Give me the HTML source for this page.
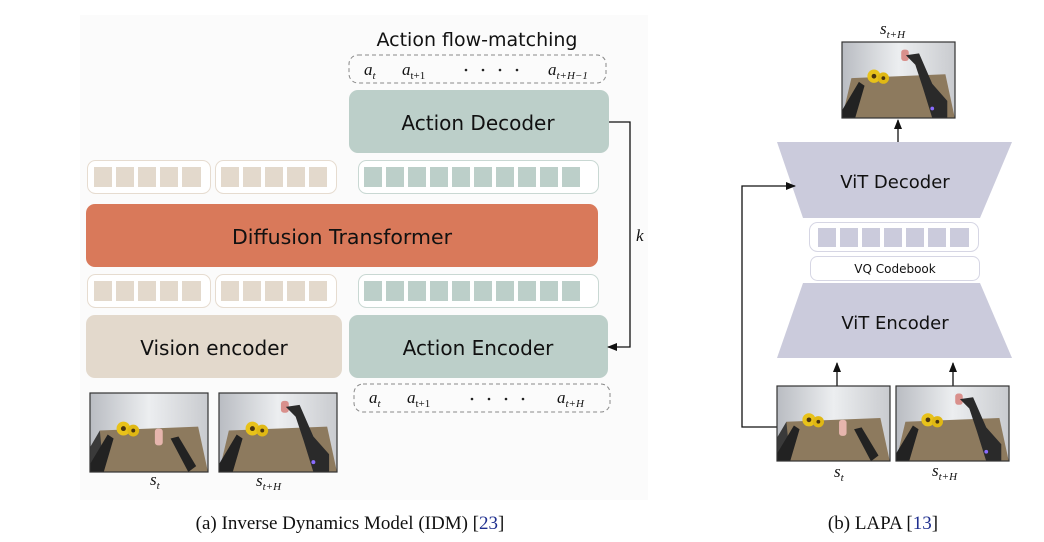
<!DOCTYPE html>
<html><head><meta charset="utf-8"><style>
html,body{margin:0;padding:0;background:#fff;}
svg{display:block}
.sans{font-family:"DejaVu Sans","Liberation Sans",sans-serif;}
.serif{font-family:"Liberation Serif",serif;}
</style></head><body>
<svg width="1044" height="542" viewBox="0 0 1044 542" xmlns="http://www.w3.org/2000/svg">
<defs>
<marker id="ar" markerWidth="10" markerHeight="8" refX="9" refY="4" orient="auto" markerUnits="userSpaceOnUse">
<path d="M0,0 L10,4 L0,8 z" fill="#111"/></marker>
<linearGradient id="wall" x1="0" y1="0" x2="1" y2="0"><stop offset="0" stop-color="#b9bcc2"/><stop offset="0.5" stop-color="#eceef0"/><stop offset="1" stop-color="#c9cbcf"/></linearGradient>
<g id="photoA">
<rect x="0" y="0" width="120" height="80" fill="url(#wall)"/>
<polygon points="10,38 110,34 120,80 0,80" fill="#8d7a5e"/>
<polygon points="0,55 10,38 14,80 0,80" fill="#3a3a3a"/>
<circle cx="34" cy="36" r="7" fill="#e8c21a"/><circle cx="44" cy="38" r="6" fill="#e0b814"/><circle cx="34" cy="36" r="2.5" fill="#4a3510"/><circle cx="44" cy="38" r="2" fill="#4a3510"/>
<rect x="66" y="36" width="8" height="17" rx="3" fill="#e6b5ad"/>
<polygon points="0,72 18,42 24,46 14,80 0,80" fill="#222"/>
<polygon points="82,46 90,44 108,74 100,80" fill="#222"/>
</g>
<g id="photoB">
<rect x="0" y="0" width="120" height="80" fill="url(#wall)"/>
<polygon points="10,38 110,34 120,80 0,80" fill="#8d7a5e"/>
<circle cx="34" cy="36" r="7" fill="#e8c21a"/><circle cx="44" cy="38" r="6" fill="#e0b814"/><circle cx="34" cy="36" r="2.5" fill="#4a3510"/><circle cx="44" cy="38" r="2" fill="#4a3510"/>
<rect x="63" y="8" width="8" height="12" rx="3" fill="#d9908c"/>
<polygon points="68,14 82,12 96,44 112,62 112,80 96,80 86,48 78,24" fill="#2a2a2a"/>
<circle cx="96" cy="70" r="2" fill="#8a6cff"/>
<polygon points="0,72 18,42 24,46 14,80 0,80" fill="#222"/>
</g>
</defs>

<rect x="80" y="15" width="568" height="485" fill="#fbfbfb"/>

<!-- Left panel -->
<text x="477" y="46" text-anchor="middle" class="sans" font-size="19" fill="#111">Action flow-matching</text>
<rect x="349" y="55" width="257" height="28" rx="9" fill="none" stroke="#888" stroke-dasharray="4,3"/>
<g class="serif" font-size="17" font-style="italic" fill="#111">
<text x="364" y="75">a<tspan font-size="11" dy="4">t</tspan></text>
<text x="402" y="75">a<tspan font-size="11" dy="4" font-style="normal">t+1</tspan></text>
<text x="548" y="75">a<tspan font-size="11" dy="4">t+H−1</tspan></text>
</g>
<g fill="#222"><circle cx="466" cy="70" r="1.3"/><circle cx="483" cy="70" r="1.3"/><circle cx="500" cy="70" r="1.3"/><circle cx="517" cy="70" r="1.3"/></g>

<rect x="349" y="90" width="260" height="63" rx="9" fill="#bccfc9"/>
<text x="478" y="130" text-anchor="middle" class="sans" font-size="20" fill="#111">Action Decoder</text>

<!-- token rows -->
<g id="rowU">
<rect x="87.5" y="160.5" width="123" height="33" rx="8" fill="#fff" stroke="#e6dcd0"/>
<rect x="94" y="167" width="18" height="20" fill="#e3d9cc"/><rect x="116" y="167" width="18" height="20" fill="#e3d9cc"/><rect x="138" y="167" width="18" height="20" fill="#e3d9cc"/><rect x="160" y="167" width="18" height="20" fill="#e3d9cc"/><rect x="182" y="167" width="19" height="20" fill="#e3d9cc"/>
<rect x="215.5" y="160.5" width="121" height="33" rx="8" fill="#fff" stroke="#e6dcd0"/>
<rect x="221" y="167" width="18" height="20" fill="#e3d9cc"/><rect x="243" y="167" width="18" height="20" fill="#e3d9cc"/><rect x="265" y="167" width="18" height="20" fill="#e3d9cc"/><rect x="287" y="167" width="18" height="20" fill="#e3d9cc"/><rect x="309" y="167" width="18" height="20" fill="#e3d9cc"/>
<rect x="358.5" y="160.5" width="240" height="33" rx="8" fill="#fff" stroke="#c9d8d3"/>
<rect x="364" y="167" width="18" height="20" fill="#bccfc9"/><rect x="386" y="167" width="18" height="20" fill="#bccfc9"/><rect x="408" y="167" width="18" height="20" fill="#bccfc9"/><rect x="430" y="167" width="18" height="20" fill="#bccfc9"/><rect x="452" y="167" width="18" height="20" fill="#bccfc9"/><rect x="474" y="167" width="18" height="20" fill="#bccfc9"/><rect x="496" y="167" width="18" height="20" fill="#bccfc9"/><rect x="518" y="167" width="18" height="20" fill="#bccfc9"/><rect x="540" y="167" width="18" height="20" fill="#bccfc9"/><rect x="562" y="167" width="18" height="20" fill="#bccfc9"/>
</g>
<use href="#rowU" y="114"/>

<rect x="86" y="204" width="512" height="63" rx="9" fill="#d9795a"/>
<text x="342" y="244" text-anchor="middle" class="sans" font-size="20.5" fill="#111">Diffusion Transformer</text>

<rect x="86" y="315" width="256" height="63" rx="9" fill="#e3d9cc"/>
<text x="214" y="355" text-anchor="middle" class="sans" font-size="20" fill="#111">Vision encoder</text>
<rect x="349" y="315" width="259" height="63" rx="9" fill="#bccfc9"/>
<text x="478" y="355" text-anchor="middle" class="sans" font-size="20" fill="#111">Action Encoder</text>

<rect x="354" y="384" width="256" height="28" rx="9" fill="none" stroke="#888" stroke-dasharray="4,3"/>
<g class="serif" font-size="17" font-style="italic" fill="#111">
<text x="369" y="403">a<tspan font-size="11" dy="4">t</tspan></text>
<text x="407" y="403">a<tspan font-size="11" dy="4" font-style="normal">t+1</tspan></text>
<text x="557" y="403">a<tspan font-size="11" dy="4">t+H</tspan></text>
</g>
<g fill="#222"><circle cx="472" cy="399" r="1.3"/><circle cx="489" cy="399" r="1.3"/><circle cx="506" cy="399" r="1.3"/><circle cx="523" cy="399" r="1.3"/></g>

<path d="M609,122 H630 V347 H608" fill="none" stroke="#111" stroke-width="1.3" marker-end="url(#ar)"/>
<text x="636" y="241" class="serif" font-size="17" font-style="italic" fill="#111">k</text>

<g transform="translate(90,393) scale(0.983,0.988)"><use href="#photoA"/></g>
<rect x="90" y="393" width="118" height="79" fill="none" stroke="#333" stroke-width="1.2"/>
<g transform="translate(219,393) scale(0.983,0.988)"><use href="#photoB"/></g>
<rect x="219" y="393" width="118" height="79" fill="none" stroke="#333" stroke-width="1.2"/>
<g class="serif" font-size="17" font-style="italic" fill="#111">
<text x="150" y="485">s<tspan font-size="11" dy="4">t</tspan></text>
<text x="256" y="486">s<tspan font-size="11" dy="4">t+H</tspan></text>
</g>

<text x="350" y="529" text-anchor="middle" class="serif" font-size="19" fill="#111">(a) Inverse Dynamics Model (IDM) [<tspan fill="#1f2f8f">23</tspan>]</text>

<!-- Right panel -->
<g class="serif" font-size="17" font-style="italic" fill="#111">
<text x="880" y="34">s<tspan font-size="11" dy="4">t+H</tspan></text>
</g>
<g transform="translate(842,42) scale(0.94,0.95)"><use href="#photoB"/></g>
<rect x="842" y="42" width="113" height="76" fill="none" stroke="#333" stroke-width="1.2"/>
<line x1="898" y1="142" x2="898" y2="120" stroke="#111" stroke-width="1.3" marker-end="url(#ar)"/>

<polygon points="777,142 1012,142 980,218 803,218" fill="#cbcbdc"/>
<text x="895" y="188" text-anchor="middle" class="sans" font-size="18" fill="#111">ViT Decoder</text>
<rect x="809.5" y="222.5" width="169" height="29" rx="8" fill="#fff" stroke="#d6d6e4"/>
<g fill="#cbcbdc"><rect x="818" y="228" width="18" height="19"/><rect x="840" y="228" width="18" height="19"/><rect x="862" y="228" width="18" height="19"/><rect x="884" y="228" width="18" height="19"/><rect x="906" y="228" width="18" height="19"/><rect x="928" y="228" width="18" height="19"/><rect x="950" y="228" width="19" height="19"/></g>
<rect x="810.5" y="256.5" width="169" height="24" rx="7" fill="#fff" stroke="#d6d6e4"/>
<text x="895" y="273" text-anchor="middle" class="sans" font-size="12" fill="#111">VQ Codebook</text>
<polygon points="803,283 980,283 1012,358 777,358" fill="#cbcbdc"/>
<text x="895" y="329" text-anchor="middle" class="sans" font-size="18" fill="#111">ViT Encoder</text>

<line x1="837" y1="386" x2="837" y2="363" stroke="#111" stroke-width="1.3" marker-end="url(#ar)"/>
<line x1="953" y1="386" x2="953" y2="363" stroke="#111" stroke-width="1.3" marker-end="url(#ar)"/>
<path d="M777,427 H742 V186 H795" fill="none" stroke="#111" stroke-width="1.3" marker-end="url(#ar)"/>

<g transform="translate(777,386) scale(0.94,0.94)"><use href="#photoA"/></g>
<rect x="777" y="386" width="113" height="75" fill="none" stroke="#333" stroke-width="1.2"/>
<g transform="translate(896,386) scale(0.94,0.94)"><use href="#photoB"/></g>
<rect x="896" y="386" width="113" height="75" fill="none" stroke="#333" stroke-width="1.2"/>
<g class="serif" font-size="17" font-style="italic" fill="#111">
<text x="834" y="477">s<tspan font-size="11" dy="4">t</tspan></text>
<text x="932" y="476">s<tspan font-size="11" dy="4">t+H</tspan></text>
</g>

<text x="883" y="529" text-anchor="middle" class="serif" font-size="19" fill="#111">(b) LAPA [<tspan fill="#1f2f8f">13</tspan>]</text>
</svg>
</body></html>
